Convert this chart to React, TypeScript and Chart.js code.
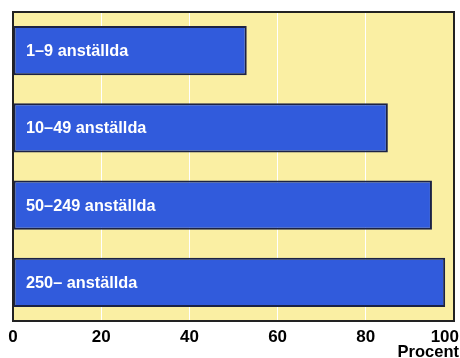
import React, { useEffect, useRef } from "react";
import { Chart, registerables } from "chart.js";

Chart.register(...registerables);

const categories = ["1–9 anställda", "10–49 anställda", "50–249 anställda", "250– anställda"];
const values = [53, 85, 95, 98];
const xTicks = [0, 20, 40, 60, 80, 100];
const axisTitle = "Procent";

const FONT = "'Liberation Sans', Arial, sans-serif";

const decor = {
  id: "decor",
  beforeDraw(chart: any) {
    const { ctx, chartArea: a } = chart;
    ctx.save();
    ctx.fillStyle = "#FAEFA3";
    ctx.fillRect(a.left, a.top, a.right - a.left, a.bottom - a.top);
    ctx.restore();
  },
  afterDatasetsDraw(chart: any) {
    const { ctx, chartArea: a } = chart;
    const meta = chart.getDatasetMeta(0);
    ctx.save();
    ctx.fillStyle = "#ffffff";
    ctx.font = `bold 16.3px ${FONT}`;
    ctx.textBaseline = "middle";
    ctx.textAlign = "left";
    meta.data.forEach((el: any, i: number) => {
      ctx.fillText(categories[i], a.left + 13, el.y + 1);
    });
    ctx.restore();
  },
  afterDraw(chart: any) {
    const { ctx, chartArea: a } = chart;
    const xs = chart.scales.x;
    ctx.save();
    ctx.strokeStyle = "#222222";
    ctx.lineWidth = 2;
    ctx.strokeRect(a.left, a.top, a.right - a.left, a.bottom - a.top);
    ctx.fillStyle = "#000000";
    ctx.font = `bold 17px ${FONT}`;
    ctx.textBaseline = "alphabetic";
    ctx.textAlign = "center";
    xTicks.forEach((v) => {
      const label = String(v);
      const w = ctx.measureText(label).width;
      let x = xs.getPixelForValue(v);
      x = Math.min(x, 459 - w / 2);
      x = Math.max(x, 1 + w / 2);
      ctx.fillText(label, x, a.bottom + 21);
    });
    ctx.font = `bold 16.5px ${FONT}`;
    ctx.textAlign = "right";
    ctx.fillText(axisTitle, 459, 357);
    ctx.restore();
  },
};

export default function App() {
  const ref = useRef<HTMLCanvasElement>(null);
  useEffect(() => {
    document.body.style.margin = "0";
    const chart = new Chart(ref.current!, {
      type: "bar",
      data: {
        labels: categories,
        datasets: [
          {
            data: values,
            backgroundColor: "#315BDC",
            borderColor: "#1B2245",
            borderWidth: 2,
            borderSkipped: false,
            categoryPercentage: 1,
            barPercentage: 0.64,
          },
        ],
      },
      options: {
        indexAxis: "y",
        responsive: false,
        animation: false,
        layout: { padding: { left: 13, top: 12, right: 6, bottom: 37 } },
        plugins: { legend: { display: false }, tooltip: { enabled: false } },
        scales: {
          x: {
            min: 0,
            max: 100,
            afterBuildTicks: (scale: any) => {
              scale.ticks = xTicks.map((v) => ({ value: v }));
            },
            afterFit: (scale: any) => {
              scale.paddingLeft = 0;
              scale.paddingRight = 0;
              scale.height = 0;
            },
            grid: { color: "#ffffff", lineWidth: 1, drawTicks: false },
            border: { display: false },
            ticks: { display: false },
          },
          y: {
            display: false,
          },
        },
      },
      plugins: [decor],
    });
    return () => chart.destroy();
  }, []);
  return (
    <div style={{ position: "relative", width: 460, height: 358 }}>
      <canvas ref={ref} width={460} height={358} />
    </div>
  );
}
